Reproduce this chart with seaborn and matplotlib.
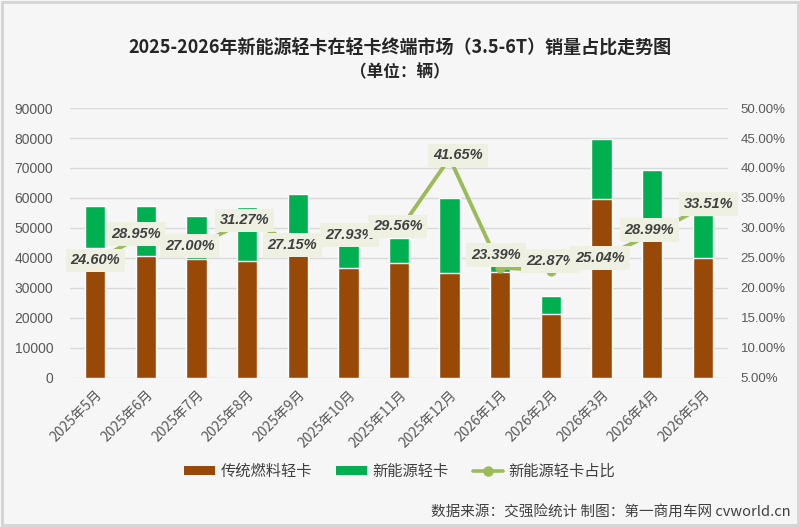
import numpy as np
import pandas as pd
import matplotlib
matplotlib.use("Agg")
import matplotlib.pyplot as plt
from matplotlib.patches import Patch, Rectangle
from matplotlib.lines import Line2D
from matplotlib.ticker import FuncFormatter, MultipleLocator
import seaborn as sns

# ---- data ----
months = ["2025年5月", "2025年6月", "2025年7月", "2025年8月", "2025年9月", "2025年10月",
          "2025年11月", "2025年12月", "2026年1月", "2026年2月", "2026年3月", "2026年4月", "2026年5月"]
total_sales = [57400, 57200, 54100, 56900, 61200, 44300, 46500, 59900, 45000, 27300, 79700, 69400, 54300]
fuel_sales = [43300, 40700, 39700, 39000, 44600, 36600, 38200, 34900, 35200, 21300, 59700, 49300, 39900]
nev_share = [24.60, 28.95, 27.00, 31.27, 27.15, 27.93, 29.56, 41.65, 23.39, 22.87, 25.04, 28.99, 33.51]

series_names = ["传统燃料轻卡", "新能源轻卡", "新能源轻卡占比"]
title = "2025-2026年新能源轻卡在轻卡终端市场（3.5-6T）销量占比走势图"
subtitle = "（单位：辆）"
footer = "数据来源：交强险统计 制图：第一商用车网 cvworld.cn"

# label nudges (points), styling only
label_dx = [0, -7, -5, -2, -4, 1, -1, 6, -3, 0, -1, -2, 4]
label_dy = [0, 0, 0, 0, 0, 4, 3, 2, 9, 7, 0, 3, 2]

BROWN = "#984807"
GREEN = "#00B050"
LINE = "#9BBB59"
BG = "#F6F6F6"
TXT = "#595959"

sns.set_theme(style="white")
plt.rcParams["font.family"] = ["Liberation Sans", "Noto Sans CJK SC", "DejaVu Sans"]
CJK = ["Noto Sans CJK SC", "DejaVu Sans"]

df = pd.DataFrame({"month": months, "total": total_sales, "fuel": fuel_sales, "share": nev_share})

fig = plt.figure(figsize=(8.0, 5.27), dpi=100, facecolor=BG)
ax = fig.add_axes([0.0875, 0.283, 0.8225, 0.512])
ax.set_facecolor(BG)

sns.barplot(data=df, x="month", y="total", color=GREEN, width=0.4, saturation=1,
            ax=ax, zorder=2)
sns.barplot(data=df, x="month", y="fuel", color=BROWN, width=0.4, saturation=1,
            ax=ax, zorder=3)

ax.set_ylim(0, 90000)
ax.set_xlim(-0.5, len(months) - 0.5)
ax.yaxis.set_major_locator(MultipleLocator(10000))
ax.grid(axis="y", color="#D9D9D9", linewidth=1.0, zorder=0)
ax.set_axisbelow(True)
for s in ax.spines.values():
    s.set_visible(False)
ax.set_xlabel("")
ax.set_ylabel("")
ax.tick_params(axis="y", length=0, labelsize=10, labelcolor=TXT, pad=12)
ax.tick_params(axis="x", length=0, labelcolor=TXT, pad=7)
ax.set_xticks(range(len(months)))
ax.set_xticklabels(months, rotation=45, ha="right", va="top", rotation_mode="anchor",
                   fontsize=10, family=CJK)

ax2 = ax.twinx()
ax2.patch.set_visible(False)
sns.lineplot(x=np.arange(len(months)), y=nev_share, ax=ax2, color=LINE, linewidth=2.8,
             marker="o", markersize=6.5, markeredgecolor=LINE, markerfacecolor=LINE, zorder=5)
ax2.set_ylim(5, 50)
ax2.yaxis.set_major_locator(MultipleLocator(5))
ax2.yaxis.set_major_formatter(FuncFormatter(lambda v, p: f"{v:.2f}%"))
ax2.tick_params(axis="y", length=0, labelsize=9.5, labelcolor=TXT, pad=9)
for s in ax2.spines.values():
    s.set_visible(False)
ax2.set_xlim(-0.5, len(months) - 0.5)
ax2.set_ylabel("")

for i, v in enumerate(nev_share):
    ax2.annotate(f"{v:.2f}%", xy=(i, v), xytext=(label_dx[i], label_dy[i]),
                 textcoords="offset points", ha="center", va="center",
                 fontsize=10.5, fontweight="bold", fontstyle="italic", color="#404040",
                 bbox=dict(boxstyle="square,pad=0.33", facecolor="#EEF0E2", edgecolor="none"),
                 zorder=6)

handles = [Patch(facecolor=BROWN, edgecolor="none"),
           Patch(facecolor=GREEN, edgecolor="none"),
           Line2D([0], [0], color=LINE, linewidth=2.6, marker="o", markersize=6.5)]
fig.legend(handles, series_names, loc="center", bbox_to_anchor=(0.5, 0.105), ncol=3,
           frameon=False, prop={"family": CJK, "size": 11}, handlelength=2.0,
           handleheight=0.55, handletextpad=0.35, columnspacing=1.6, labelcolor="#404040")

fig.text(0.5, 1 - 48 / 527, title, ha="center", va="center", fontsize=13,
         fontweight="bold", color="#262626", family=CJK)
fig.text(0.5, 1 - 72 / 527, subtitle, ha="center", va="center", fontsize=12,
         fontweight="bold", color="#262626", family=CJK)
fig.text(0.988, 1 - 513 / 527, footer, ha="right", va="center", fontsize=10.5,
         color="#404040", family=CJK)

fig.patches.append(Rectangle((0.002, 0.003), 0.996, 0.994, transform=fig.transFigure,
                             fill=False, edgecolor="#D4D4D4", linewidth=2))

fig.savefig("out.png", dpi=100, facecolor=BG)
